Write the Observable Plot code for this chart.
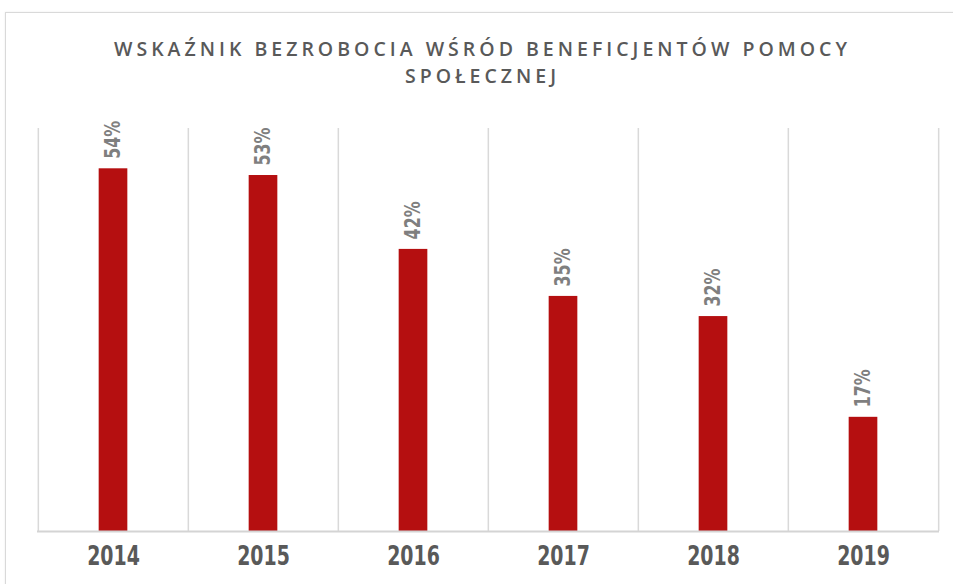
<!DOCTYPE html>
<html>
<head>
<meta charset="utf-8">
<script src="https://cdn.jsdelivr.net/npm/d3@7"></script>
<script src="https://cdn.jsdelivr.net/npm/@observablehq/plot@0.6"></script>
<style>
  html, body { margin: 0; padding: 0; background: #fff; }
  #wrap { position: relative; width: 953px; height: 584px; overflow: hidden; }
  #card { position: absolute; left: 5px; top: 12px; width: 1000px; height: 700px;
          border-left: 1px solid #d9d9d9; border-top: 1px solid #d9d9d9; box-shadow: 0 0 2px rgba(0,0,0,0.08); }
  #title { position: relative; height: 100px; box-sizing: border-box; padding-top: 35px; padding-left: 12px;
           text-align: center; font-family: "Open Sans", sans-serif; font-weight: 600;
           font-size: 19.5px; line-height: 27px; letter-spacing: 4px; color: #595959; }
  svg { display: block; position: relative; }
</style>
</head>
<body>
<div id="wrap">
  <div id="card"></div>
  <div id="title">WSKAŹNIK BEZROBOCIA WŚRÓD BENEFICJENTÓW POMOCY<br>SPOŁECZNEJ</div>
  <div id="chart"></div>
</div>
<script>
const years = ["2014", "2015", "2016", "2017", "2018", "2019"];
const values = [54, 53, 42, 35, 32, 17];
const labels = ["54%", "53%", "42%", "35%", "32%", "17%"];

const data = years.map((year, i) => ({year, value: values[i], label: labels[i]}));

const width = 953;
const marginLeft = 37, marginRight = 14;
const step = (width - marginLeft - marginRight) / years.length;
const barWidth = 29;
const inset = (step - barWidth) / 2;

const font = '"DejaVu Sans Condensed", "DejaVu Sans", sans-serif';

const plot = Plot.plot({
  width,
  height: 481,
  marginLeft,
  marginRight,
  marginTop: 28,
  marginBottom: 50,
  style: {fontFamily: font, background: "transparent", overflow: "visible"},
  x: {type: "band", domain: years, padding: 0, label: null},
  y: {domain: [0, 60], axis: null},
  marks: [
    Plot.ruleX(years, {x: d => d, dx: -step / 2, stroke: "#d9d9d9", strokeWidth: 1.5, strokeOpacity: 1}),
    Plot.ruleX(years.slice(-1), {x: d => d, dx: step / 2, stroke: "#d9d9d9", strokeWidth: 1.5, strokeOpacity: 1}),
    Plot.barY(data, {x: "year", y: "value", fill: "#b50f10", insetLeft: inset, insetRight: inset}),
    Plot.ruleY([0], {stroke: "#d4d4d4", strokeWidth: 2}),
    Plot.text(data, {x: "year", y: "value", text: "label", rotate: -90, textAnchor: "start", lineAnchor: "middle",
      dy: -10, fill: "#7f7f7f", fontSize: 21, fontWeight: "bold", className: "vlabel"}),
    Plot.axisX({tickSize: 0, tickPadding: 14, fontSize: 27, fontWeight: "bold", color: "#595959", label: null, className: "xaxis"})
  ]
});
document.getElementById("chart").appendChild(plot);

// condense glyphs horizontally (along the text direction)
d3.select(plot).selectAll(".vlabel text").each(function() {
  const t = this.getAttribute("transform") || "";
  this.setAttribute("transform", t + " scale(0.84,1)");
});
d3.select(plot).selectAll(".xaxis text").each(function() {
  const t = this.getAttribute("transform") || "";
  this.setAttribute("transform", t + " scale(0.78,1)");
});
</script>
</body>
</html>
